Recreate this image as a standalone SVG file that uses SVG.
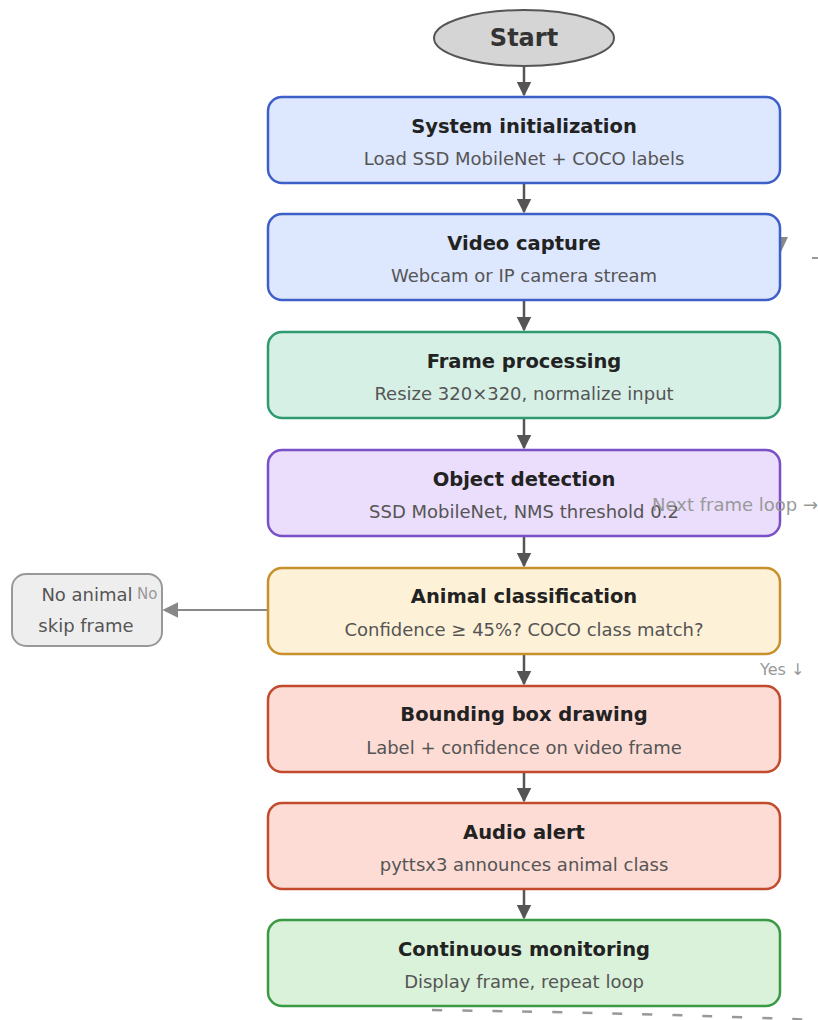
<svg xmlns="http://www.w3.org/2000/svg" width="818" height="1020" viewBox="0 0 818 1020">
<style>
.t{font-family:"DejaVu Sans",sans-serif;font-weight:bold;font-size:19.5px;fill:#222;text-anchor:middle}
.s{font-family:"DejaVu Sans",sans-serif;font-size:18px;fill:#555;text-anchor:middle}
.g{font-family:"DejaVu Sans",sans-serif;fill:#999}
.box{stroke-width:2.5}
.blue{fill:#dde7fd;stroke:#3f5fc8}
.teal{fill:#d6f0e6;stroke:#2f9a70}
.purple{fill:#ebddfc;stroke:#7a50c8}
.yellow{fill:#fdf1d8;stroke:#c8902c}
.red{fill:#fcdcd4;stroke:#c24b2e}
.green{fill:#daf1da;stroke:#3a9a44}
.flow{stroke:#555;stroke-width:2.5;fill:none}
</style>
<defs>
<marker id="ah" viewBox="0 0 10 10" refX="9" refY="5" markerWidth="6" markerHeight="6" orient="auto" markerUnits="strokeWidth">
<path d="M0,0 L10,5 L0,10 z" fill="#555"/>
</marker>
<marker id="ahg" viewBox="0 0 10 10" refX="9" refY="5" markerWidth="8" markerHeight="8" orient="auto" markerUnits="strokeWidth">
<path d="M0,0 L10,5 L0,10 z" fill="#888"/>
</marker>
</defs>
<g id="connectors">
<path class="flow" d="M524 66 V95" marker-end="url(#ah)"/>
<path class="flow" d="M524 183 V212" marker-end="url(#ah)"/>
<path class="flow" d="M524 300 V330" marker-end="url(#ah)"/>
<path class="flow" d="M524 418 V448" marker-end="url(#ah)"/>
<path class="flow" d="M524 536 V566" marker-end="url(#ah)"/>
<path class="flow" d="M524 654 V684" marker-end="url(#ah)"/>
<path class="flow" d="M524 772 V801" marker-end="url(#ah)"/>
<path class="flow" d="M524 889 V918" marker-end="url(#ah)"/>
<path d="M268 610 H164" stroke="#888" stroke-width="2" fill="none" marker-end="url(#ahg)"/>
<path d="M432 1010 Q 640 1013 818 1020" stroke="#999" stroke-width="2.5" fill="none" stroke-dasharray="10 20"/>
<path d="M812 258 H818" stroke="#999" stroke-width="2"/>
<path d="M772 237 L788 237 L780 254 z" fill="#888"/>
</g>
<g id="start">
<ellipse cx="524" cy="38" rx="90" ry="28" fill="#d5d5d5" stroke="#555" stroke-width="2"/>
<text x="524" y="46" font-family="DejaVu Sans,sans-serif" font-weight="bold" font-size="24" fill="#333" text-anchor="middle">Start</text>
</g>
<g id="init">
<rect class="box blue" x="268" y="97" width="512" height="86" rx="14"/>
<text class="t" x="524" y="133">System initialization</text>
<text class="s" x="524" y="165">Load SSD MobileNet + COCO labels</text>
</g>
<g id="capture">
<rect class="box blue" x="268" y="214" width="512" height="86" rx="14"/>
<text class="t" x="524" y="250">Video capture</text>
<text class="s" x="524" y="282">Webcam or IP camera stream</text>
</g>
<g id="frame">
<rect class="box teal" x="268" y="332" width="512" height="86" rx="14"/>
<text class="t" x="524" y="368">Frame processing</text>
<text class="s" x="524" y="400">Resize 320×320, normalize input</text>
</g>
<g id="detect">
<rect class="box purple" x="268" y="450" width="512" height="86" rx="14"/>
<text class="t" x="524" y="486">Object detection</text>
<text class="s" x="524" y="518">SSD MobileNet, NMS threshold 0.2</text>
</g>
<g id="classify">
<rect class="box yellow" x="268" y="568" width="512" height="86" rx="14"/>
<text class="t" x="524" y="603">Animal classification</text>
<text class="s" x="524" y="636">Confidence ≥ 45%? COCO class match?</text>
</g>
<g id="noanimal">
<rect x="12" y="574" width="150" height="72" rx="14" fill="#eeeeee" stroke="#999" stroke-width="2"/>
<text x="87" y="601" font-family="DejaVu Sans,sans-serif" font-size="18" fill="#555" text-anchor="middle">No animal</text>
<text x="86" y="632" font-family="DejaVu Sans,sans-serif" font-size="18" fill="#555" text-anchor="middle">skip frame</text>
</g>
<g id="bbox">
<rect class="box red" x="268" y="686" width="512" height="86" rx="14"/>
<text class="t" x="524" y="721">Bounding box drawing</text>
<text class="s" x="524" y="754">Label + confidence on video frame</text>
</g>
<g id="audio">
<rect class="box red" x="268" y="803" width="512" height="86" rx="14"/>
<text class="t" x="524" y="839">Audio alert</text>
<text class="s" x="524" y="871">pyttsx3 announces animal class</text>
</g>
<g id="monitor">
<rect class="box green" x="268" y="920" width="512" height="86" rx="14"/>
<text class="t" x="524" y="956">Continuous monitoring</text>
<text class="s" x="524" y="988">Display frame, repeat loop</text>
</g>
<g id="connector-labels">
<text class="g" x="652" y="511" font-size="18">Next frame loop →</text>
<text class="g" x="760" y="675" font-size="16">Yes ↓</text>
<text class="g" x="137" y="599" font-size="15">No</text>
</g>
</svg>
